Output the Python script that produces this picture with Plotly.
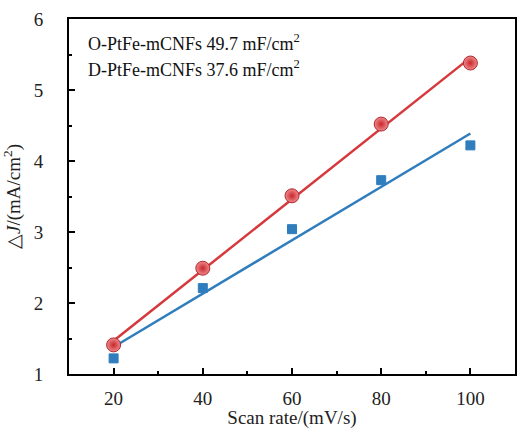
import numpy as np
import plotly.graph_objects as go

scan_rate = [20, 40, 60, 80, 100]
o_ptfe = [1.41, 2.49, 3.51, 4.52, 5.38]
d_ptfe = [1.22, 2.21, 3.04, 3.73, 4.22]
labels = ["O-PtFe-mCNFs 49.7 mF/cm<sup>2</sup>", "D-PtFe-mCNFs 37.6 mF/cm<sup>2</sup>"]

red = "#d5393c"
blue = "#2f7dbd"
serif = "Liberation Serif"

x = np.array(scan_rate, dtype=float)
fig = go.Figure()
for ys, col, sym, sz in [(d_ptfe, blue, "square", 9), (o_ptfe, red, "circle", 14)]:
    k, b = np.polyfit(x, np.array(ys), 1)
    fig.add_trace(go.Scatter(x=scan_rate, y=list(k * x + b), mode="lines",
                             line=dict(color=col, width=2.5), showlegend=False, hoverinfo="skip"))
    if col == red:
        marker = dict(symbol=sym, size=sz, color="#ee8a8c",
                      gradient=dict(type="radial", color="#c9262b"),
                      line=dict(color="#b02a2e", width=1))
    else:
        marker = dict(symbol=sym, size=sz, color=col, line=dict(color=col, width=1))
    fig.add_trace(go.Scatter(x=scan_rate, y=ys, mode="markers", marker=marker, showlegend=False))

for i, lab in enumerate(labels):
    fig.add_annotation(x=0, y=1, xref="paper", yref="paper", xanchor="left", yanchor="middle",
                       xshift=17, yshift=-23 - 26 * i, showarrow=False, align="left",
                       text=lab, font=dict(family=serif, size=18, color="#111"))

axis_common = dict(showline=True, linewidth=2, linecolor="black", mirror=True,
                   ticks="inside", ticklen=6, tickwidth=2, tickcolor="black",
                   showgrid=False, zeroline=False,
                   tickfont=dict(family=serif, size=19, color="#222"))
fig.update_xaxes(range=[10, 110], tickvals=[20, 40, 60, 80, 100],
                 minor=dict(tickvals=[30, 50, 70, 90], ticks="inside", ticklen=3, tickwidth=2, tickcolor="black"),
                 ticklabelstandoff=6,
                 title=dict(text="Scan rate/(mV/s)", font=dict(family=serif, size=19, color="#222"), standoff=8),
                 **axis_common)
fig.update_yaxes(range=[1, 6], tickvals=[1, 2, 3, 4, 5, 6],
                 minor=dict(tickvals=[1.5, 2.5, 3.5, 4.5, 5.5], ticks="inside", ticklen=3, tickwidth=2, tickcolor="black"),
                 ticklabelstandoff=20,
                 title=dict(text="△<i>J</i>/(mA/cm<sup>2</sup>)", font=dict(family=serif, size=19, color="#222"), standoff=8),
                 **axis_common)
fig.update_layout(width=517, height=429, margin=dict(l=69, r=2, t=19, b=55, autoexpand=False),
                  plot_bgcolor="white", paper_bgcolor="white")
fig.write_html("out.html", config={"displayModeBar": False},
               post_script="document.body.style.margin='0';")
